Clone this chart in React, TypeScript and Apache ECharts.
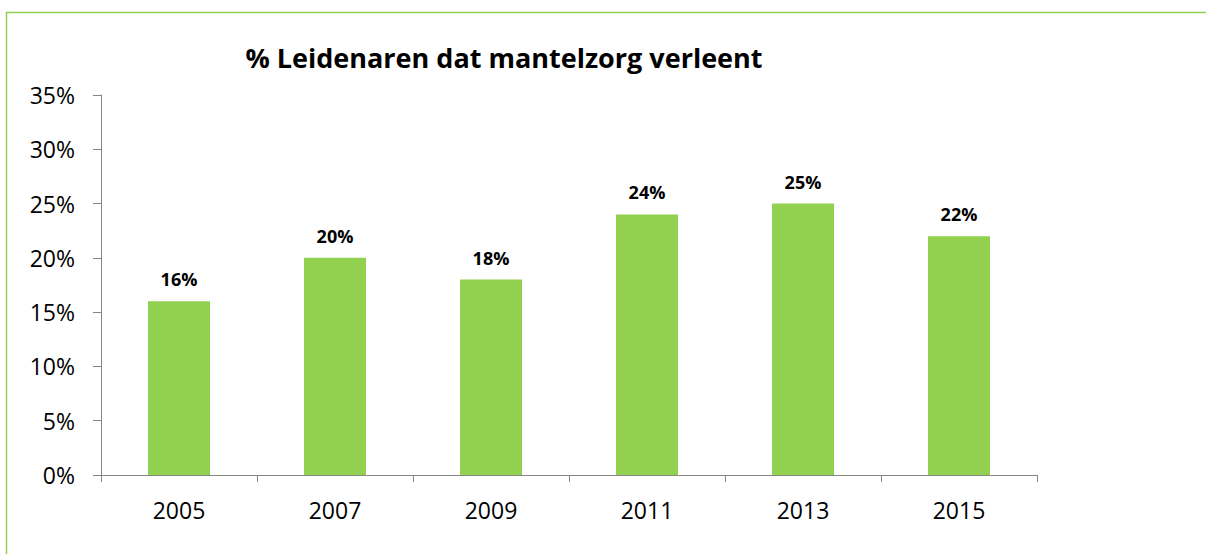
import React, { useEffect, useRef } from "react";
import * as echarts from "echarts";

const categories = ["2005", "2007", "2009", "2011", "2013", "2015"];
const values = [16, 20, 18, 24, 25, 22];
const title = "% Leidenaren dat mantelzorg verleent";

export default function App() {
  const ref = useRef<HTMLDivElement>(null);
  useEffect(() => {
    const chart = echarts.init(ref.current!, null, { renderer: "svg" });
    const font = "Open Sans, Liberation Sans, Arial, sans-serif";
    chart.setOption({
      animation: false,
      backgroundColor: "#ffffff",
      title: {
        text: title,
        left: 499,
        textAlign: "center",
        top: 39,
        textStyle: { fontFamily: font, fontSize: 27, fontWeight: "bold", color: "#000" },
      },
      graphic: [
        {
          type: "rect",
          shape: { x: 6.5, y: 12.5, width: 1300, height: 700 },
          style: { fill: "none", stroke: "#92d050", lineWidth: 1.5 },
          silent: true,
        },
      ],
      grid: { left: 101, right: 169, top: 95, bottom: 79, containLabel: false },
      xAxis: {
        type: "category",
        data: categories,
        axisLine: { lineStyle: { color: "#868686", width: 1 } },
        axisTick: { show: true, length: 7, alignWithLabel: false, lineStyle: { color: "#868686" } },
        axisLabel: { fontFamily: font, fontSize: 23, color: "#000", margin: 23 },
      },
      yAxis: {
        type: "value",
        min: 0,
        max: 35,
        interval: 5,
        axisLine: { show: true, lineStyle: { color: "#868686", width: 1 } },
        axisTick: { show: true, length: 8, lineStyle: { color: "#868686" } },
        splitLine: { show: false },
        axisLabel: {
          fontFamily: font,
          fontSize: 23,
          color: "#000",
          margin: 26,
          formatter: (v: number) => v + "%",
        },
      },
      series: [
        {
          type: "bar",
          data: values,
          barWidth: 62,
          itemStyle: { color: "#92d050" },
          label: {
            show: true,
            position: "top",
            distance: 13,
            fontFamily: font,
            fontSize: 18,
            fontWeight: "bold",
            color: "#000",
            formatter: (p: any) => p.value + "%",
          },
        },
      ],
    });
    return () => chart.dispose();
  }, []);
  return <div ref={ref} style={{ width: 1206, height: 554, position: "absolute", left: 0, top: 0 }} />;
}
